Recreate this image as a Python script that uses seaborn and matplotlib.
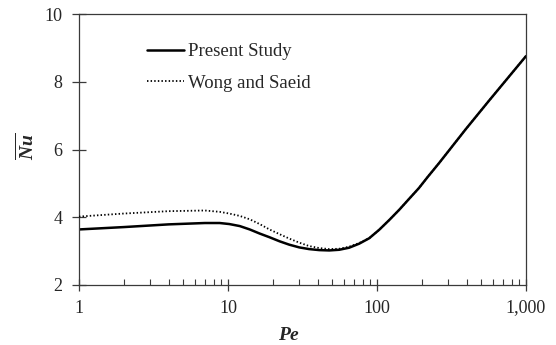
import numpy as np
import pandas as pd
import matplotlib
matplotlib.use("Agg")
import matplotlib.pyplot as plt
import matplotlib.ticker as mticker
import seaborn as sns

# Average Nusselt number versus Peclet number
pe_present = [1, 2, 4, 7, 8.8, 10.2, 12, 14, 16.3, 19, 22.2, 25.8, 30.1, 35, 41,
              47.8, 55.8, 65, 76, 88.7, 103.5, 121, 141, 164, 191, 218, 261,
              394, 564, 1000]
nu_present = [3.64, 3.71, 3.79, 3.83, 3.83, 3.80, 3.74, 3.64, 3.52, 3.41, 3.29,
              3.19, 3.11, 3.06, 3.03, 3.02, 3.04, 3.10, 3.22, 3.38, 3.63, 3.92,
              4.22, 4.54, 4.86, 5.18, 5.60, 6.60, 7.44, 8.76]

pe_wong = [1, 2, 4, 7, 8.8, 10.2, 12, 14, 16.3, 19, 22.2, 25.8, 30.1, 35, 41,
           47.8, 55.8, 65, 76, 88.7, 103.5, 121, 141, 164, 191, 218, 261,
           394, 564, 1000]
nu_wong = [4.02, 4.11, 4.18, 4.20, 4.16, 4.11, 4.04, 3.94, 3.80, 3.64, 3.50,
           3.37, 3.25, 3.15, 3.09, 3.06, 3.07, 3.13, 3.24, 3.38, 3.63, 3.92,
           4.22, 4.54, 4.86, 5.18, 5.60, 6.60, 7.44, 8.76]

series_names = ["Present Study", "Wong and Saeid"]
x_ticks = [1, 10, 100, 1000]
x_tick_labels = ["1", "10", "100", "1,000"]
y_ticks = [2, 4, 6, 8, 10]

sns.set_style("ticks")
plt.rcParams["font.family"] = ["Liberation Serif", "DejaVu Serif"]
plt.rcParams["mathtext.fontset"] = "custom"
plt.rcParams["mathtext.bf"] = "Liberation Serif:bold:italic"
plt.rcParams["mathtext.rm"] = "Liberation Serif"

df = pd.concat([
    pd.DataFrame({"Pe": pe_present, "Nu": nu_present, "series": series_names[0]}),
    pd.DataFrame({"Pe": pe_wong, "Nu": nu_wong, "series": series_names[1]}),
])

fig = plt.figure(figsize=(5.56, 3.45), dpi=100)
ax = fig.add_axes([0.142, 0.174, 0.804, 0.785])

sns.lineplot(data=df[df.series == series_names[1]], x="Pe", y="Nu", ax=ax,
             color="black", linewidth=1.3, linestyle=(0, (0.8, 1.2)),
             label=series_names[1], estimator=None, sort=False, zorder=3)
sns.lineplot(data=df[df.series == series_names[0]], x="Pe", y="Nu", ax=ax,
             color="black", linewidth=1.8, label=series_names[0],
             estimator=None, sort=False, zorder=2)

ax.set_xscale("log")
ax.set_xlim(1, 1000)
ax.set_ylim(2, 10)
ax.set_xticks(x_ticks)
ax.set_xticklabels(x_tick_labels)
ax.xaxis.set_minor_locator(mticker.LogLocator(base=10, subs=np.arange(2, 10)))
ax.xaxis.set_minor_formatter(mticker.NullFormatter())
ax.set_yticks(y_ticks)

for sp in ax.spines.values():
    sp.set_visible(True)
    sp.set_color("#3a3a3a")
    sp.set_linewidth(0.9)

ax.tick_params(axis="x", which="major", direction="inout", length=9,
               width=0.9, color="#3a3a3a", labelsize=13, pad=6)
ax.tick_params(axis="x", which="minor", direction="in", length=4.5,
               width=0.8, color="#3a3a3a")
ax.tick_params(axis="y", which="major", direction="inout", length=9.5,
               width=0.9, color="#3a3a3a", labelsize=13, pad=7)
ax.tick_params(axis="y", which="minor", left=False)

ax.set_xlabel(r"$\mathbf{Pe}$", fontsize=14)
ax.set_ylabel(r"$\overline{\mathbf{Nu}}$", fontsize=14)
ax.xaxis.set_label_coords(0.47, -0.155)
ax.yaxis.set_label_coords(-0.092, 0.51)

handles, labels = ax.get_legend_handles_labels()
order = [labels.index(n) for n in series_names]
ax.legend([handles[i] for i in order], [labels[i] for i in order],
          loc="upper left", bbox_to_anchor=(0.135, 0.92), frameon=False,
          fontsize=13.5, handlelength=2.0, handletextpad=0.2,
          labelspacing=0.75, borderaxespad=0)

fig.savefig("out.png", dpi=100)
